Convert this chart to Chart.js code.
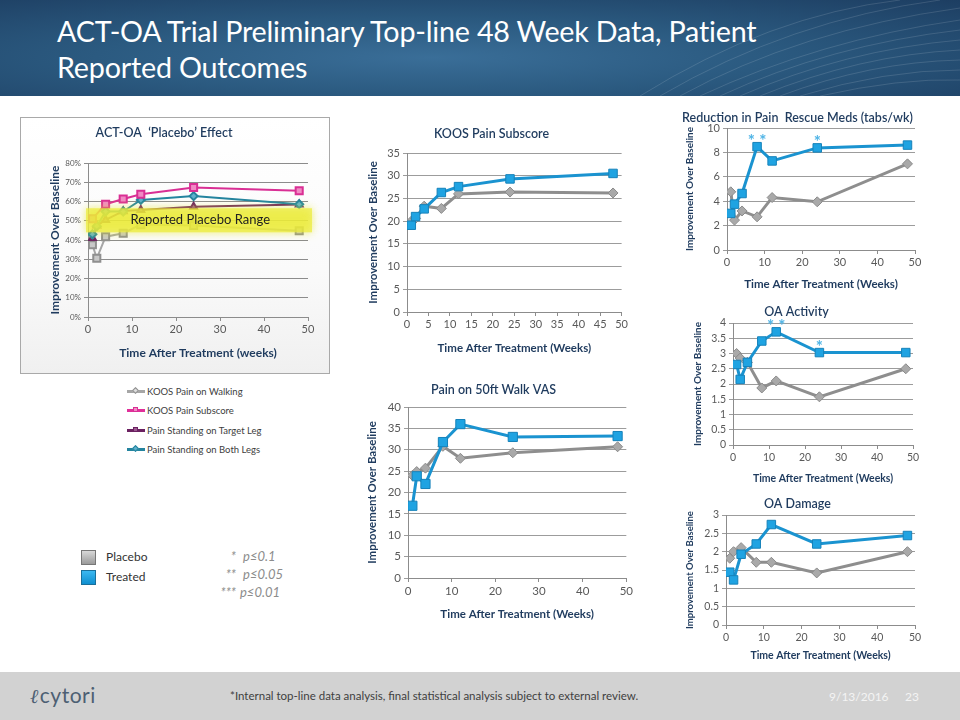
<!DOCTYPE html>
<html>
<head>
<meta charset="utf-8">
<script src="https://cdn.jsdelivr.net/npm/chart.js@4.4.1/dist/chart.umd.min.js"></script>
<style>
  body { margin: 0; width: 960px; height: 720px; position: relative; overflow: hidden; background: #fff; font-family: Lato, "Noto Sans", sans-serif; }
  .header { position: absolute; left: 0; top: 0; width: 960px; height: 96px;
    background: radial-gradient(ellipse at 45% 60%, #3a6e98 0%, #2b5a80 45%, #1d3e62 100%); }
  .header svg { position: absolute; left: 0; top: 0; }
  .header h1 { position: absolute; left: 57px; top: 13px; margin: 0; font-weight: 400; font-size: 28.7px; line-height: 36px; color: #fff; letter-spacing: -0.2px; }
  .cv { position: absolute; }
  .box { position: absolute; left: 20px; top: 117px; width: 308px; height: 255px; border: 1px solid #a9a9a9;
    background: linear-gradient(180deg, #ffffff 0%, #fafafa 60%, #f0f0f0 100%); }
  .leg { position: absolute; left: 127px; font-size: 9.5px; color: #404040; line-height: 12px; }
  .leg i { display: inline-block; width: 18px; height: 3px; vertical-align: middle; margin-right: 2px; position: relative; top: -1px; }
  .leg i u { position: absolute; left: 6px; top: -2px; width: 5px; height: 5px; border: 1px solid; box-sizing: border-box; }
  .key { position: absolute; left: 81px; font-size: 12px; color: #333; }
  .key b { display: inline-block; width: 13px; height: 13px; vertical-align: middle; margin-right: 10px; border: 1px solid #777; }
  .sig { position: absolute; left: 198px; font-size: 13px; color: #8c8c8c; font-style: italic; white-space: pre; }
  .sig span { display: inline-block; width: 38px; text-align: right; margin-right: 4px; }
  .footer { position: absolute; left: 0; top: 672px; width: 960px; height: 48px; background: #d2d2d2; }
  .note { position: absolute; left: 230px; top: 17px; font-size: 11.5px; color: #3f3f3f; }
  .date { position: absolute; left: 829px; top: 17px; font-size: 12px; color: #f4f4f4; }
  .page { position: absolute; left: 905px; top: 17px; font-size: 12px; color: #f4f4f4; }
  .logo { position: absolute; left: 30px; top: 10px; font-size: 21px; color: #4d5f73; letter-spacing: 0.5px; }
</style>
</head>
<body>
<div class="header">
  <svg width="960" height="96">
    <g fill="none" stroke="#ffffff" stroke-opacity="0.13" stroke-width="1">
      <path d="M700 96 Q 820 40 960 20"/><path d="M720 96 Q 830 45 960 30"/>
      <path d="M740 96 Q 845 50 960 40"/><path d="M760 96 Q 860 55 960 50"/>
      <path d="M780 96 Q 870 62 960 60"/><path d="M800 96 Q 885 70 960 70"/>
      <path d="M820 96 Q 900 78 960 80"/><path d="M680 96 Q 800 30 960 8"/>
      <path d="M660 96 Q 790 20 940 0"/><path d="M640 96 Q 770 15 900 0"/>
    </g>
  </svg>
  <h1>ACT-OA Trial Preliminary Top-line 48 Week Data, Patient<br>Reported Outcomes</h1>
</div>

<div class="box"></div>
<canvas id="placeboChart" class="cv" style="left:20px;top:117px;" width="310" height="257"></canvas>

<div class="leg" style="top:386px"><i style="background:#a6a6a6"><u style="border-color:#8f8f8f;background:#ddd;transform:rotate(45deg)"></u></i>KOOS Pain on Walking</div>
<div class="leg" style="top:405px"><i style="background:#e0309a"><u style="border-color:#d92f94;background:#f08ac4"></u></i>KOOS Pain Subscore</div>
<div class="leg" style="top:425px"><i style="background:#6b2161"><u style="border-color:#6b2161;background:#9b5a90"></u></i>Pain Standing on Target Leg</div>
<div class="leg" style="top:444px"><i style="background:#24849f"><u style="border-color:#24849f;background:#5fb0cc;transform:rotate(45deg)"></u></i>Pain Standing on Both Legs</div>

<div class="key" style="top:549px"><b style="background:linear-gradient(#d8d8d8,#9a9a9a)"></b>Placebo</div>
<div class="key" style="top:569px"><b style="background:linear-gradient(#3cb8f0,#0f8fd0);border-color:#1a6f9a"></b>Treated</div>
<div class="sig" style="top:548px"><span>*</span> p≤0.1</div>
<div class="sig" style="top:566px"><span>**</span> p≤0.05</div>
<div class="sig" style="top:584px"><span>***</span>p≤0.01</div>

<canvas id="koosChart" class="cv" style="left:360px;top:120px;" width="270" height="240"></canvas>
<canvas id="vasChart" class="cv" style="left:360px;top:375px;" width="275" height="250"></canvas>
<canvas id="rescueChart" class="cv" style="left:680px;top:105px;" width="270" height="190"></canvas>
<canvas id="activityChart" class="cv" style="left:680px;top:300px;" width="260" height="190"></canvas>
<canvas id="damageChart" class="cv" style="left:680px;top:490px;" width="260" height="180"></canvas>

<div class="footer">
  <div class="logo"><span style="font-style:italic;font-family:'DejaVu Serif';font-size:20px;margin-right:1px">ℓ</span>cytori</div>
  <div class="note">*Internal top-line data analysis, final statistical analysis subject to external review.</div>
  <div class="date">9/13/2016</div>
  <div class="page">23</div>
</div>

<script>
// weeks after treatment (shared x values)
const weeks = [1, 2, 4, 8, 12, 24, 48];

// ACT-OA 'Placebo' effect (% improvement)
const koosWalking = [37.5, 30.5, 41.7, 43.5, 48, 47.5, 44.8];
const koosSubscore = [51, null, 58.6, 61.3, 63.8, 67.3, 65.6];
const standingTarget = [41, 47.5, 50.4, 55, 55.6, 57.3, 58.4];
const standingBoth = [43, 47.2, 54.8, 54.8, 60.8, 62.8, 58.6];
const placeboRange = [44, 56.5];

// KOOS Pain Subscore
const koosPlacebo = [20, 20.6, 23.3, 22.8, 26.0, 26.4, 26.2];
const koosTreated = [19.1, 21.0, 22.7, 26.3, 27.6, 29.3, 30.5];

// Pain on 50ft Walk VAS
const vasPlacebo = [24.0, 24.9, 25.7, 30.8, 28.0, 29.3, 30.7];
const vasTreated = [16.9, 23.8, 22.0, 31.8, 36.0, 33.0, 33.2];

// Reduction in pain rescue meds (tabs/wk)
const rescuePlacebo = [4.77, 2.45, 3.2, 2.72, 4.3, 3.95, 7.06];
const rescueTreated = [3.0, 3.76, 4.63, 8.47, 7.3, 8.37, 8.6];
const rescueSig = ['', '', '', '**', '', '*', ''];

// OA Activity
const activityPlacebo = [3.0, 2.85, 2.71, 1.87, 2.1, 1.58, 2.5];
const activityTreated = [2.64, 2.15, 2.71, 3.41, 3.71, 3.03, 3.03];
const activitySig = ['', '', '', '', '**', '*', ''];

// OA Damage
const damagePlacebo = [1.82, 2.0, 2.11, 1.71, 1.71, 1.42, 2.0];
const damageTreated = [1.44, 1.23, 1.93, 2.21, 2.74, 2.21, 2.44];

const navy = '#1f3b5e';
const tickGray = '#595959';
const FONT = 'Lato, "Noto Sans", sans-serif';

function pts(ys) {
  return weeks.map((w, i) => ({ x: w, y: ys[i] }));
}

// draws the significance asterisks above treated points
const sigMarks = {
  id: 'sigMarks',
  afterDatasetsDraw(chart, args, opts) {
    if (!opts.marks) return;
    const { ctx, scales: { x, y } } = chart;
    ctx.save();
    ctx.fillStyle = '#4fb4e6';
    ctx.font = 'bold 17px ' + FONT;
    ctx.textAlign = 'center';
    ctx.textBaseline = 'alphabetic';
    opts.marks.forEach((m, i) => {
      if (!m) return;
      const px = x.getPixelForValue(weeks[i]);
      const py = y.getPixelForValue(opts.values[i]);
      ctx.fillText(m.split('').join(' '), px, py);
    });
    ctx.restore();
  }
};

// yellow "reported placebo range" band
const rangeBand = {
  id: 'rangeBand',
  afterDatasetsDraw(chart, args, opts) {
    if (!opts.range) return;
    const { ctx, chartArea, scales: { x, y } } = chart;
    const top = y.getPixelForValue(opts.range[1]);
    const bot = y.getPixelForValue(opts.range[0]);
    ctx.save();
    ctx.shadowColor = 'rgba(230,230,40,0.9)';
    ctx.shadowBlur = 8;
    ctx.fillStyle = 'rgba(236,236,60,0.72)';
    ctx.fillRect(chartArea.left - 2, top, chartArea.right - chartArea.left + 6, bot - top);
    ctx.restore();
    ctx.save();
    ctx.fillStyle = '#222';
    ctx.font = '13px ' + FONT;
    ctx.textAlign = 'center';
    ctx.textBaseline = 'middle';
    ctx.fillText('Reported Placebo Range', x.getPixelForValue(25.5), y.getPixelForValue((opts.range[0] + opts.range[1]) / 2));
    ctx.restore();
  }
};

// builds a chart whose plot area sits at fixed canvas coordinates
function makeChart(id, cfg) {
  const canvas = document.getElementById(id);
  const W = canvas.width, H = canvas.height;
  const p = cfg.plot;
  const tf = cfg.titleSize;
  const tTop = cfg.titleY - 0.6 * tf;
  const yt = cfg.yTitleSize, xt = cfg.xTitleSize;
  return new Chart(canvas, {
    type: 'line',
    data: { datasets: cfg.datasets },
    plugins: [sigMarks, rangeBand],
    options: {
      responsive: false,
      animation: false,
      layout: { padding: { left: 0, right: W - p.r, top: 0, bottom: 0 } },
      plugins: {
        legend: { display: false },
        tooltip: { enabled: false },
        title: {
          display: true, text: cfg.title, color: navy,
          font: { family: FONT, size: tf, weight: cfg.titleWeight || '600', lineHeight: 1.2 },
          padding: { top: tTop, bottom: p.t - 1.2 * tf - tTop }
        },
        sigMarks: { marks: cfg.marks, values: cfg.markValues },
        rangeBand: { range: cfg.range }
      },
      scales: {
        x: {
          type: 'linear', min: 0, max: 50,
          ticks: { stepSize: cfg.xStep, autoSkip: false, color: tickGray, font: { family: FONT, size: cfg.tickSize }, padding: 2 },
          grid: { drawOnChartArea: false, color: '#8c8c8c', tickLength: 4 },
          border: { color: '#8c8c8c' },
          title: {
            display: true, text: cfg.xTitle, color: navy,
            font: { family: FONT, size: xt, weight: 'bold', lineHeight: 1.2 },
            padding: { top: 0, bottom: H - cfg.xTitleY - 0.6 * xt }
          },
          afterFit: (s) => { s.height = H - p.b; }
        },
        y: {
          min: cfg.yMin, max: cfg.yMax,
          ticks: { stepSize: cfg.yStep, autoSkip: false, color: tickGray, font: { family: FONT, size: cfg.yTickSize || cfg.tickSize }, padding: 3,
            callback: cfg.yFormat || ((v) => v) },
          grid: { color: cfg.gridColor || '#9c9c9c', tickLength: 4 },
          border: { color: '#8c8c8c' },
          title: {
            display: true, text: 'Improvement Over Baseline', color: navy,
            font: { family: FONT, size: yt, weight: 'bold', lineHeight: 1.2 },
            padding: { top: cfg.yTitleX - 0.6 * yt, bottom: 0 }
          },
          afterFit: (s) => { s.width = p.l; }
        }
      }
    }
  });
}

function pairSets(placebo, treated, sq) {
  return [
    { label: 'Treated', data: pts(treated), borderColor: '#1a93d0', backgroundColor: '#1fa3e2',
      pointStyle: 'rect', pointRadius: sq, pointBorderColor: '#1682ba', pointBorderWidth: 1, borderWidth: 3 },
    { label: 'Placebo', data: pts(placebo), borderColor: '#8e8e8e', backgroundColor: '#a9a9a9',
      pointStyle: 'rectRot', pointRadius: 5, pointBorderColor: '#8a8a8a', pointBorderWidth: 1, borderWidth: 3 }
  ];
}

// left: placebo effect chart
makeChart('placeboChart', {
  plot: { l: 68, r: 288, t: 46, b: 200 },
  title: 'ACT-OA  \u2018Placebo\u2019 Effect', titleSize: 12.5, titleY: 16, titleWeight: '600',
  xTitle: 'Time After Treatment (weeks)', xTitleSize: 12, xTitleY: 236,
  yTitleSize: 12, yTitleX: 35,
  tickSize: 11, yTickSize: 8, xStep: 10, yMin: 0, yMax: 80, yStep: 10,
  yFormat: (v) => v + '%', gridColor: '#8c8c8c',
  range: placeboRange,
  datasets: [
    { label: 'KOOS Pain Subscore', data: pts(koosSubscore), spanGaps: true, borderColor: '#d92f94', backgroundColor: '#f08ac4',
      pointStyle: 'rect', pointRadius: 5, pointBorderColor: '#d92f94', borderWidth: 2 },
    { label: 'Pain Standing on Both Legs', data: pts(standingBoth), borderColor: '#24849f', backgroundColor: '#5fb0cc',
      pointStyle: 'rectRot', pointRadius: 4, pointBorderColor: '#24849f', borderWidth: 2 },
    { label: 'Pain Standing on Target Leg', data: pts(standingTarget), borderColor: '#6b2161', backgroundColor: '#9b5a90',
      pointStyle: 'triangle', pointRadius: 4, pointBorderColor: '#6b2161', borderWidth: 2 },
    { label: 'KOOS Pain on Walking', data: pts(koosWalking), borderColor: '#a6a6a6', backgroundColor: '#c8c8c8',
      pointStyle: 'rect', pointRadius: 5, pointBorderColor: '#8f8f8f', borderWidth: 2 }
  ]
});

makeChart('koosChart', {
  plot: { l: 47, r: 263, t: 33, b: 192 },
  title: 'KOOS Pain Subscore', titleSize: 12.5, titleY: 14,
  xTitle: 'Time After Treatment (Weeks)', xTitleSize: 11.5, xTitleY: 228,
  yTitleSize: 11.5, yTitleX: 13,
  tickSize: 11, xStep: 5, yMin: 0, yMax: 35, yStep: 5,
  datasets: pairSets(koosPlacebo, koosTreated, 6)
});

makeChart('vasChart', {
  plot: { l: 48, r: 267, t: 32, b: 203 },
  title: 'Pain on 50ft Walk VAS', titleSize: 12.5, titleY: 15,
  xTitle: 'Time After Treatment (Weeks)', xTitleSize: 11.5, xTitleY: 239,
  yTitleSize: 11.5, yTitleX: 12,
  tickSize: 11.5, xStep: 10, yMin: 0, yMax: 40, yStep: 5,
  datasets: pairSets(vasPlacebo, vasTreated, 6.5)
});

makeChart('rescueChart', {
  plot: { l: 47, r: 235, t: 23, b: 145 },
  title: 'Reduction in Pain  Rescue Meds (tabs/wk)', titleSize: 12.5, titleY: 13,
  xTitle: 'Time After Treatment (Weeks)', xTitleSize: 11.5, xTitleY: 179,
  yTitleSize: 10, yTitleX: 10,
  tickSize: 11, xStep: 10, yMin: 0, yMax: 10, yStep: 2,
  marks: rescueSig, markValues: rescueTreated,
  datasets: pairSets(rescuePlacebo, rescueTreated, 6)
});

makeChart('activityChart', {
  plot: { l: 53, r: 233, t: 23, b: 145 },
  title: 'OA Activity', titleSize: 12.5, titleY: 12,
  xTitle: 'Time After Treatment (Weeks)', xTitleSize: 10.5, xTitleY: 179,
  yTitleSize: 10, yTitleX: 18,
  tickSize: 10.5, xStep: 10, yMin: 0, yMax: 4, yStep: 0.5,
  marks: activitySig, markValues: activityTreated,
  datasets: pairSets(activityPlacebo, activityTreated, 6)
});

makeChart('damageChart', {
  plot: { l: 46, r: 235, t: 25, b: 135 },
  title: 'OA Damage', titleSize: 12.5, titleY: 14,
  xTitle: 'Time After Treatment (Weeks)', xTitleSize: 10.5, xTitleY: 166,
  yTitleSize: 9.5, yTitleX: 10,
  tickSize: 10.5, xStep: 10, yMin: 0, yMax: 3, yStep: 0.5,
  datasets: pairSets(damagePlacebo, damageTreated, 6)
});
</script>
</body>
</html>
